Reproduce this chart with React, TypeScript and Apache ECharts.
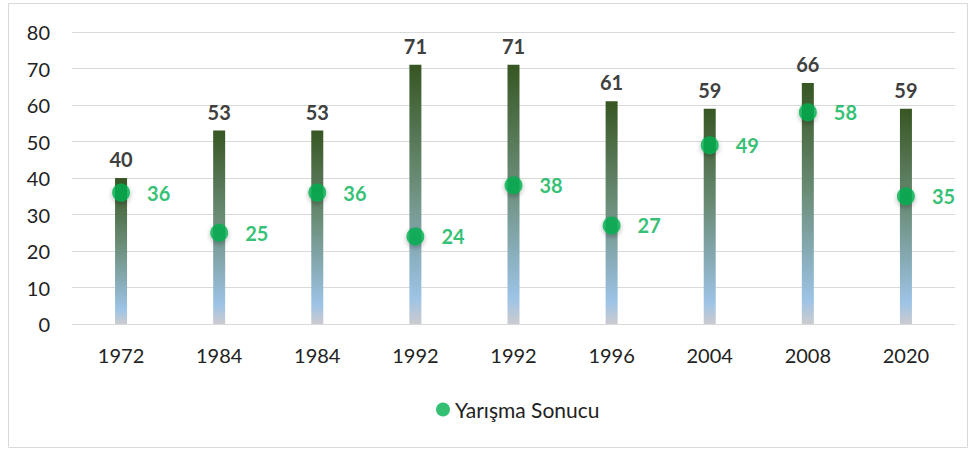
import React, { useEffect, useRef } from "react";
import * as echarts from "echarts";

const categories = ["1972", "1984", "1984", "1992", "1992", "1996", "2004", "2008", "2020"];
const barValues = [40, 53, 53, 71, 71, 61, 59, 66, 59];
const resultValues = [36, 25, 36, 24, 38, 27, 49, 58, 35];
const yTicks = [0, 10, 20, 30, 40, 50, 60, 70, 80];
const legendName = "Yarışma Sonucu";

export default function App() {
  const ref = useRef<HTMLDivElement>(null);
  useEffect(() => {
    if (!ref.current) return;
    const chart = echarts.init(ref.current, null, { renderer: "svg" });
    const font = "Lato, 'Open Sans', sans-serif";
    chart.setOption({
      animation: false,
      textStyle: { fontFamily: font },
      graphic: [
        {
          type: "rect",
          shape: { x: 8.5, y: 3.5, width: 959, height: 444 },
          style: { fill: "none", stroke: "#d9d9d9", lineWidth: 1 },
          silent: true,
        },
      ],
      grid: { left: 72, right: 18, top: 32, bottom: 126, containLabel: false },
      legend: {
        data: [{ name: legendName, icon: "circle" }],
        left: 431,
        top: 394,
        itemWidth: 14,
        itemHeight: 14,
        itemGap: 4,
        textStyle: { fontSize: 21, color: "#222", fontFamily: font },
      },
      xAxis: {
        type: "category",
        data: categories.map((c, i) => ({ value: c + "\u200B".repeat(i) })),
        axisLine: { show: true, lineStyle: { color: "#d9d9d9", width: 1 } },
        axisTick: { show: false },
        axisLabel: {
          color: "#222",
          fontSize: 20,
          margin: 21,
          fontFamily: font,
          formatter: (v: string) => v.replace(/\u200B/g, ""),
        },
      },
      yAxis: {
        type: "value",
        min: yTicks[0],
        max: yTicks[yTicks.length - 1],
        interval: 10,
        axisLine: { show: false },
        axisTick: { show: false },
        splitLine: { lineStyle: { color: "#d9d9d9", width: 1 } },
        axisLabel: { color: "#222", fontSize: 20, margin: 22, fontFamily: font },
      },
      series: [
        {
          type: "bar",
          name: "Bar",
          data: barValues,
          barWidth: 12,
          itemStyle: {
            color: new echarts.graphic.LinearGradient(0, 0, 0, 1, [
              { offset: 0, color: "#375623" },
              { offset: 0.45, color: "#6a8c76" },
              { offset: 0.9, color: "#9dc3e6" },
              { offset: 1, color: "#cbcbcf" },
            ]),
          },
          label: {
            show: true,
            position: "top",
            distance: 9,
            color: "#404040",
            fontSize: 20,
            fontWeight: "bold",
            fontFamily: font,
          },
          z: 2,
        },
        {
          type: "scatter",
          name: legendName,
          data: resultValues.map((v, i) => [i, v]),
          symbol: "circle",
          symbolSize: 18,
          itemStyle: {
            color: "#00b050",
            shadowBlur: 5,
            shadowColor: "rgba(0,0,0,0.35)",
            shadowOffsetY: 2,
          },
          label: {
            show: true,
            position: "right",
            distance: 17,
            color: "#00b050",
            fontSize: 20,
            fontWeight: "bold",
            fontFamily: font,
            formatter: (p: any) => String(p.value[1]),
          },
          z: 3,
        },
      ],
    });
    return () => chart.dispose();
  }, []);
  return (
    <div
      ref={ref}
      style={{ position: "absolute", left: 0, top: 0, width: 973, height: 450 }}
    />
  );
}
